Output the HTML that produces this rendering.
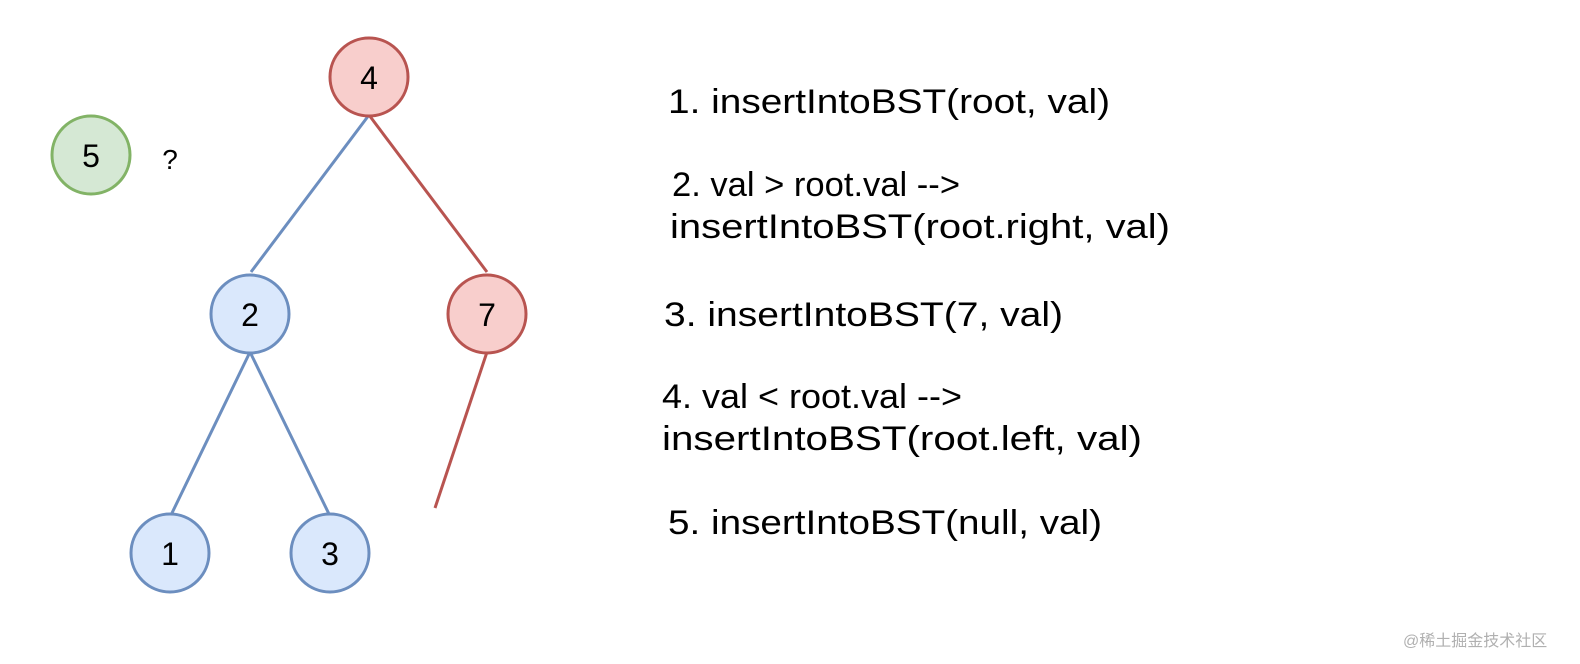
<!DOCTYPE html>
<html><head><meta charset="utf-8"><style>
html,body{margin:0;padding:0;background:#fff;}
svg{display:block;}
text{font-family:"Liberation Sans","Noto Sans CJK SC",sans-serif;fill:#000;}
</style></head><body>
<svg width="1580" height="664" viewBox="0 0 1580 664" xmlns="http://www.w3.org/2000/svg">
<g stroke-width="3" fill="none">
<line x1="369" y1="115" x2="251" y2="272" stroke="#6c8ebf"/>
<line x1="369" y1="115" x2="487" y2="272" stroke="#b85450"/>
<line x1="487" y1="352" x2="435" y2="508" stroke="#b85450"/>
<line x1="250" y1="352" x2="172" y2="513" stroke="#6c8ebf"/>
<line x1="250" y1="352" x2="329" y2="514" stroke="#6c8ebf"/>
</g>
<g stroke-width="3">
<circle cx="369" cy="77" r="39" fill="#f8cecc" stroke="#b85450"/>
<circle cx="91" cy="155" r="39" fill="#d5e8d4" stroke="#82b366"/>
<circle cx="250" cy="314" r="39" fill="#dae8fc" stroke="#6c8ebf"/>
<circle cx="487" cy="314" r="39" fill="#f8cecc" stroke="#b85450"/>
<circle cx="170" cy="553" r="39" fill="#dae8fc" stroke="#6c8ebf"/>
<circle cx="330" cy="553" r="39" fill="#dae8fc" stroke="#6c8ebf"/>
</g>
<g font-size="32" text-anchor="middle">
<text x="369" y="89">4</text>
<text x="91" y="167">5</text>
<text x="250" y="326">2</text>
<text x="487" y="326">7</text>
<text x="170" y="565">1</text>
<text x="330" y="565">3</text>
<text x="170" y="169" font-size="28">?</text>
</g>
<g font-size="34">
<text x="668" y="113" textLength="442" lengthAdjust="spacingAndGlyphs">1. insertIntoBST(root, val)</text>
<text x="672" y="196" textLength="288" lengthAdjust="spacingAndGlyphs">2. val &gt; root.val --&gt;</text>
<text x="670" y="238" textLength="500" lengthAdjust="spacingAndGlyphs">insertIntoBST(root.right, val)</text>
<text x="664" y="326" textLength="399" lengthAdjust="spacingAndGlyphs">3. insertIntoBST(7, val)</text>
<text x="662" y="408" textLength="300" lengthAdjust="spacingAndGlyphs">4. val &lt; root.val --&gt;</text>
<text x="662" y="450" textLength="480" lengthAdjust="spacingAndGlyphs">insertIntoBST(root.left, val)</text>
<text x="668" y="534" textLength="434" lengthAdjust="spacingAndGlyphs">5. insertIntoBST(null, val)</text>
</g>
<text x="1403" y="646" font-size="16" fill="#b0b0b0" style="fill:#b0b0b0">@稀土掘金技术社区</text>
</svg>
</body></html>
